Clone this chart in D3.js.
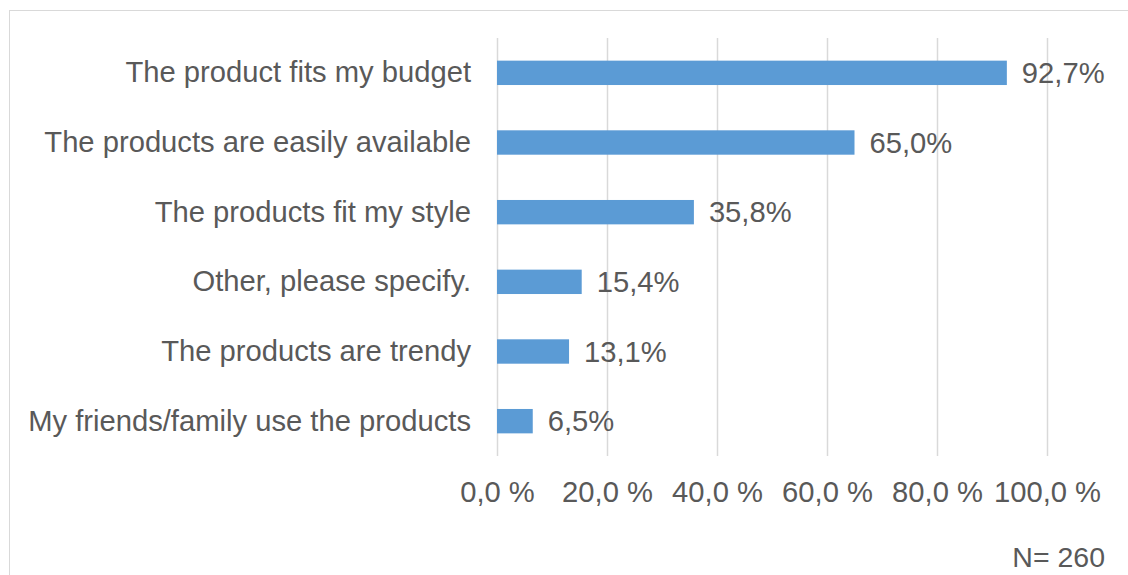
<!DOCTYPE html>
<html>
<head>
<meta charset="utf-8">
<script src="https://cdn.jsdelivr.net/npm/d3@7"></script>
<style>
  html, body { margin: 0; padding: 0; background: #fff; }
  svg { display: block; }
</style>
</head>
<body>
<svg id="chart" width="1128" height="575"></svg>
<script>
// Reasons given by respondents (share of N = 260)
const categories = [
  "The product fits my budget",
  "The products are easily available",
  "The products fit my style",
  "Other, please specify.",
  "The products are trendy",
  "My friends/family use the products"
];
const values = [92.7, 65.0, 35.8, 15.4, 13.1, 6.5];
const tickValues = [0, 20, 40, 60, 80, 100];
const tickLabels = ["0,0 %", "20,0 %", "40,0 %", "60,0 %", "80,0 %", "100,0 %"];
const sampleNote = "N= 260";

const svg = d3.select("#chart");
const W = 1128, H = 575;
const textColor = "#595959";
const font = "'Liberation Sans', Arial, sans-serif";
const fontSize = 29.2;

// Chart frame (open at right and bottom edges)
svg.append("rect")
  .attr("x", 9.5).attr("y", 10.5)
  .attr("width", W + 10).attr("height", H + 10)
  .attr("fill", "none").attr("stroke", "#d9d9d9").attr("stroke-width", 1);

const plot = { left: 497, right: 1047, top: 38, bottom: 456 };

const x = d3.scaleLinear().domain([0, 100]).range([plot.left, plot.right]);
const y = d3.scaleBand().domain(categories).range([plot.top, plot.bottom]).paddingInner(0.65).paddingOuter(0.325);

// Vertical gridlines
svg.append("g").selectAll("line").data(tickValues).join("line")
  .attr("x1", d => x(d) + 0.5).attr("x2", d => x(d) + 0.5)
  .attr("y1", plot.top).attr("y2", plot.bottom)
  .attr("stroke", "#d9d9d9").attr("stroke-width", 1.5);

// Bars
const data = categories.map((c, i) => ({ c, v: values[i] }));
svg.append("g").selectAll("rect").data(data).join("rect")
  .attr("x", x(0)).attr("y", d => y(d.c))
  .attr("width", d => x(d.v) - x(0)).attr("height", y.bandwidth())
  .attr("fill", "#5b9bd5");

// Value labels
svg.append("g").selectAll("text").data(data).join("text")
  .attr("x", d => x(d.v) + 15).attr("y", d => y(d.c) + y.bandwidth() / 2)
  .attr("dy", "0.35em")
  .attr("font-family", font).attr("font-size", fontSize).attr("fill", textColor)
  .text(d => d.v.toFixed(1).replace(".", ",") + "%");

// Category axis labels
const yAxis = d3.axisLeft(y).tickSize(0).tickPadding(26);
const gy = svg.append("g").attr("transform", `translate(${plot.left},0)`).call(yAxis);
gy.select(".domain").remove();
gy.selectAll("text").attr("font-family", font).attr("font-size", fontSize).attr("fill", textColor);

// Value axis labels
const xAxis = d3.axisBottom(x).tickValues(tickValues)
  .tickFormat((d, i) => tickLabels[i]).tickSize(0).tickPadding(25);
const gx = svg.append("g").attr("transform", `translate(0,${plot.bottom})`).call(xAxis);
gx.select(".domain").remove();
gx.selectAll("text").attr("font-family", font).attr("font-size", fontSize).attr("fill", textColor);

// Sample size note
svg.append("text")
  .attr("x", 1105).attr("y", 567)
  .attr("text-anchor", "end")
  .attr("font-family", font).attr("font-size", 28.5).attr("fill", textColor)
  .text(sampleNote);
</script>
</body>
</html>
